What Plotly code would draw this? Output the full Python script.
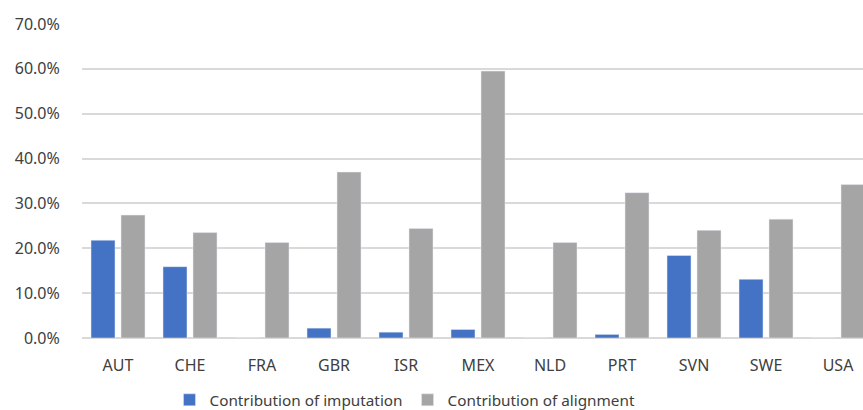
import plotly.graph_objects as go

countries = ["AUT", "CHE", "FRA", "GBR", "ISR", "MEX", "NLD", "PRT", "SVN", "SWE", "USA"]
imputation = [0.218, 0.159, 0.0, 0.022, 0.013, 0.019, 0.0, 0.008, 0.184, 0.131, 0.0]
alignment = [0.274, 0.235, 0.213, 0.370, 0.244, 0.595, 0.213, 0.324, 0.240, 0.265, 0.342]
y_ticks = [0, 0.1, 0.2, 0.3, 0.4, 0.5, 0.6, 0.7]

fig = go.Figure()
fig.add_trace(go.Bar(x=countries, y=imputation, name="Contribution of imputation",
                     marker=dict(color="#4472C4")))
fig.add_trace(go.Bar(x=countries, y=alignment, name="Contribution of alignment",
                     marker=dict(color="#A5A5A5")))

fig.update_layout(
    width=863, height=410,
    margin=dict(l=82, r=0, t=24, b=72, autoexpand=False),
    paper_bgcolor="white", plot_bgcolor="white",
    barmode="group", bargap=0.167, bargroupgap=0.2,
    font=dict(family="Noto Sans", size=16, color="#404040"),
    showlegend=True,
    legend=dict(orientation="h", x=0.112, xanchor="left", y=-0.197, yanchor="middle",
                font=dict(size=15.3, color="#404040"), itemwidth=30),
    xaxis=dict(range=[-0.5, 10.347], showgrid=False, showline=False,
               ticks="outside", ticklen=13, tickcolor="rgba(0,0,0,0)",
               tickfont=dict(size=16, color="#404040")),
    yaxis=dict(range=[0, 0.7], tickvals=y_ticks, tickformat=".1%",
               showgrid=True, gridcolor="#D9D9D9", gridwidth=1.5,
               zeroline=True, zerolinecolor="#D9D9D9", zerolinewidth=1.5,
               ticks="outside", ticklen=18, tickcolor="rgba(0,0,0,0)",
               tickfont=dict(size=16, color="#404040")),
)

fig.write_html("out.html")
